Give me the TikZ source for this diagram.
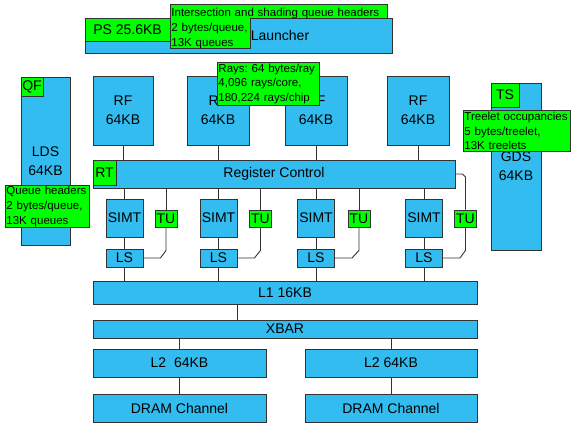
\documentclass[tikz,border=0pt]{standalone}
\usepackage{fontspec}
\setmainfont{Liberation Sans}
\usetikzlibrary{calc}
\definecolor{blu}{RGB}{51,188,240}
\definecolor{grn}{RGB}{0,255,0}
\definecolor{edge}{RGB}{50,50,50}
\frenchspacing

\begin{document}
\begin{tikzpicture}[x=1pt, y=-1pt, font=\fontsize{14}{19}\selectfont, unit/.style={draw=edge, fill=blu, line width=0.9pt, inner sep=0pt, align=center}, tag/.style={draw=edge, fill=grn, line width=0.9pt, inner sep=0pt, align=center}, note/.style={draw=edge, fill=grn, line width=0.9pt, inner xsep=1pt, inner ysep=0pt, text width=#1, align=left, anchor=north west, font=\fontsize{11.5}{14.8}\selectfont}, wire/.style={draw=edge, line width=0.9pt}]
\useasboundingbox (0,0) rectangle (575,423);
% launcher and its headers
\node[unit, minimum width=307pt, minimum height=35pt, label={[xshift=41.5pt]center:Launcher}] (launcher) at (238.5,35.5) {};
\node[tag, minimum width=85pt, minimum height=23pt] (ps) at (127.5,29.5) {PS 25.6KB};
\draw[draw=edge, fill=grn, line width=0.9pt] (170,4) -- (387,4) -- (387,18) -- (250,18) -- (250,48) -- (170,48) -- cycle;
\node[note=215pt, draw=none, fill=none] (isq) at (170,8) {Intersection and shading queue headers\\2 bytes/queue,\\13K queues};
% local and global data stores
\node[unit, minimum width=49pt, minimum height=168pt] (lds) at (45.5,161) {LDS\\64KB};
\node[tag, minimum width=22pt, minimum height=19pt] (qf) at (32,86.5) {QF};
\node[note=82pt, minimum height=42pt] (qhdr) at (5,185) {Queue headers\\2 bytes/queue,\\13K queues};
\node[unit, minimum width=50pt, minimum height=167pt] (gds) at (516,166.5) {GDS\\64KB};
\node[tag, minimum width=28pt, minimum height=24pt] (ts) at (505,95) {TS};
\node[note=105pt, minimum height=41pt] (treelet) at (463,110) {Treelet occupancies\\5 bytes/treelet,\\13K treelets};
% register files
\node[unit, minimum width=60pt, minimum height=69pt] (rf1) at (123,110.5) {RF\\64KB};
\node[unit, minimum width=62pt, minimum height=69pt] (rf2) at (218,110.5) {RF\\64KB};
\node[unit, minimum width=62pt, minimum height=69pt] (rf3) at (316,110.5) {RF\\64KB};
\node[unit, minimum width=62pt, minimum height=69pt] (rf4) at (418,110.5) {RF\\64KB};
\node[note=100pt, minimum height=43pt] (rays) at (217,62) {Rays: 64 bytes/ray\\4,096 rays/core,\\180,224 rays/chip};
\node[unit, minimum width=362pt, minimum height=28pt] (rc) at (274,174) {Register Control};
\node[tag, minimum width=23pt, minimum height=25pt] (rt) at (104.5,172.5) {RT};
% lanes
\node[unit, minimum width=37pt, minimum height=38pt] (simt1) at (124.5,218) {SIMT};
\node[unit, minimum width=37pt, minimum height=38pt] (simt2) at (218.5,218) {SIMT};
\node[unit, minimum width=37pt, minimum height=38pt] (simt3) at (316,218) {SIMT};
\node[unit, minimum width=37pt, minimum height=38pt] (simt4) at (424,218) {SIMT};
\node[tag, minimum width=22pt, minimum height=17pt] (tu1) at (166,218.5) {TU};
\node[tag, minimum width=22pt, minimum height=17pt] (tu2) at (260.5,218.5) {TU};
\node[tag, minimum width=22pt, minimum height=17pt] (tu3) at (359,218.5) {TU};
\node[tag, minimum width=22pt, minimum height=17pt] (tu4) at (465.5,218.5) {TU};
\node[unit, minimum width=37pt, minimum height=18pt] (ls1) at (124.5,258) {LS};
\node[unit, minimum width=37pt, minimum height=18pt] (ls2) at (218.5,258) {LS};
\node[unit, minimum width=37pt, minimum height=18pt] (ls3) at (316,258) {LS};
\node[unit, minimum width=37pt, minimum height=18pt] (ls4) at (424,258) {LS};
% memory hierarchy
\node[unit, minimum width=384pt, minimum height=23pt] (l1) at (285,292.5) {L1 16KB};
\node[unit, minimum width=384pt, minimum height=18pt] (xbar) at (285,329) {XBAR};
\node[unit, minimum width=173pt, minimum height=28pt] (l2a) at (179.5,363) {L2~~64KB};
\node[unit, minimum width=172pt, minimum height=28pt] (l2b) at (391,363) {L2 64KB};
\node[unit, minimum width=173pt, minimum height=28pt] (drama) at (179.5,408) {DRAM Channel};
\node[unit, minimum width=172pt, minimum height=28pt] (dramb) at (391,408) {DRAM Channel};
% wires
\draw[wire] (rf1.south) -- (rf1.south |- rc.north);
\draw[wire] (rf2.south) -- (rf2.south |- rc.north);
\draw[wire] (rf3.south) -- (rf3.south |- rc.north);
\draw[wire] (rf4.south) -- (rf4.south |- rc.north);
\draw[wire] (simt1.north |- rc.south) -- (simt1.north);
\draw[wire] (simt2.north |- rc.south) -- (simt2.north);
\draw[wire] (simt3.north |- rc.south) -- (simt3.north);
\draw[wire] (simt4.north |- rc.south) -- (simt4.north);
\draw[wire] (tu1.north |- rc.south) -- (tu1.north);
\draw[wire] (tu2.north |- rc.south) -- (tu2.north);
\draw[wire] (tu3.north |- rc.south) -- (tu3.north);
\draw[wire] (rc.east) -- ($(tu4.north |- rc.east)+(-3,0)$) -- ($(tu4.north |- rc.east)+(0,3)$) -- (tu4.north);
\draw[wire] (simt1) -- (ls1);
\draw[wire] (simt2) -- (ls2);
\draw[wire] (simt3) -- (ls3);
\draw[wire] (simt4) -- (ls4);
\draw[wire] (tu1.south) -- ($(tu1.south)+(0,23)$) -- ($(ls1.east)+(17,0)$) -- (ls1.east);
\draw[wire] (tu2.south) -- ($(tu2.south)+(0,23)$) -- ($(ls2.east)+(17,0)$) -- (ls2.east);
\draw[wire] (tu3.south) -- ($(tu3.south)+(0,23)$) -- ($(ls3.east)+(17,0)$) -- (ls3.east);
\draw[wire] (tu4.south) -- ($(tu4.south)+(0,23)$) -- ($(ls4.east)+(17,0)$) -- (ls4.east);
\draw[wire] (ls1.south) -- (ls1.south |- l1.north);
\draw[wire] (ls2.south) -- (ls2.south |- l1.north);
\draw[wire] (ls3.south) -- (ls3.south |- l1.north);
\draw[wire] (ls4.south) -- (ls4.south |- l1.north);
\draw[wire] ([xshift=-48pt]l1.south) -- ([xshift=-48pt]l1.south |- xbar.north);
\draw[wire] (l2a.north |- xbar.south) -- (l2a.north);
\draw[wire] (l2b.north |- xbar.south) -- (l2b.north);
\draw[wire] (l2a) -- (drama);
\draw[wire] (l2b) -- (dramb);
\end{tikzpicture}
\end{document}
